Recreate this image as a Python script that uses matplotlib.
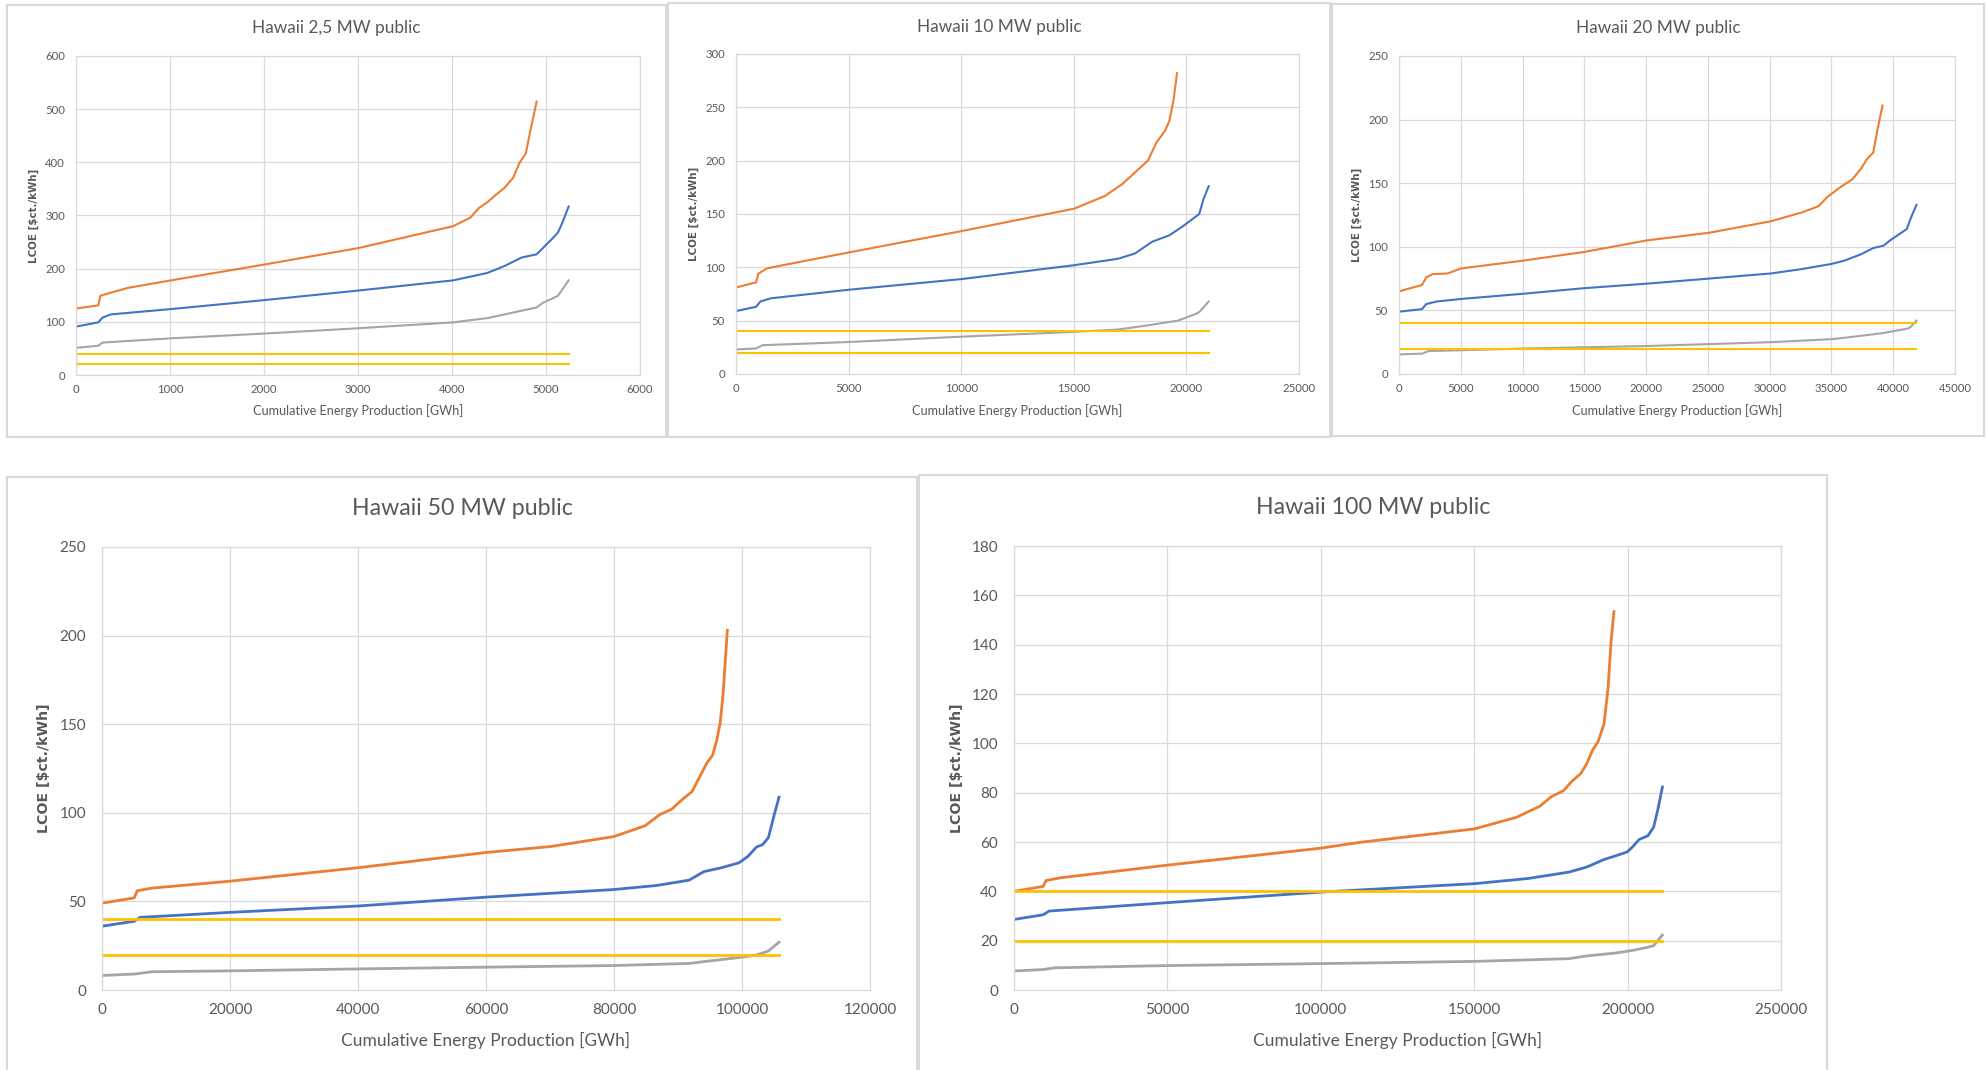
import matplotlib
matplotlib.use("Agg")
import matplotlib.pyplot as plt
from matplotlib.patches import Rectangle
from matplotlib.ticker import MultipleLocator, FuncFormatter

# -----------------------------------------------
# Data (GWh, $ct./kWh)
# -----------------------------------------------
titles = ["Hawaii 2,5 MW public", "Hawaii 10 MW public", "Hawaii 20 MW public",
          "Hawaii 50 MW public", "Hawaii 100 MW public"]

# 2,5 MW
p1_orange_x = [0, 237, 259, 373, 555, 1010, 2011, 3011, 4013, 4195, 4286, 4377, 4468, 4559, 4650, 4718, 4786, 4832, 4900]
p1_orange_y = [125, 131, 149, 155, 164, 178, 208, 239, 280, 296, 314, 325, 339, 352, 371, 399, 417, 458, 514]
p1_blue_x = [0, 237, 282, 373, 1010, 2011, 3011, 4013, 4377, 4559, 4741, 4900, 4968, 5059, 5127, 5173, 5241]
p1_blue_y = [91, 99, 108, 114, 124, 141, 159, 178, 192, 205, 221, 227, 239, 255, 268, 286, 317]
p1_gray_x = [0, 237, 282, 1010, 2011, 3011, 4013, 4377, 4559, 4741, 4900, 4968, 5059, 5127, 5241]
p1_gray_y = [51, 55, 61, 69, 78, 88, 99, 107, 114, 121, 127, 136, 143, 149, 178]

# 10 MW
p2_orange_x = [0, 893, 989, 1369, 2319, 5019, 10019, 15019, 16388, 17148, 17718, 18289, 18669, 19049, 19240, 19430, 19582]
p2_orange_y = [81, 86, 94, 99, 103, 114, 134, 155, 167, 178, 189, 200, 217, 228, 237, 257, 282]
p2_blue_x = [0, 893, 1084, 1559, 5019, 10019, 15019, 16958, 17718, 18479, 19240, 19810, 20190, 20570, 20760, 20989]
p2_blue_y = [59, 63, 68, 71, 79, 89, 102, 108, 113, 124, 130, 138, 144, 150, 164, 176]
p2_gray_x = [0, 893, 1179, 5019, 10019, 15019, 16958, 18098, 19620, 20380, 20570, 20989]
p2_gray_y = [23, 24, 27, 30, 35, 39.5, 41.7, 45, 50, 56, 58, 68]

# 20 MW
p3_orange_x = [0, 1868, 2208, 2717, 3906, 5027, 9952, 15014, 20041, 25068, 30061, 32609, 33967, 34647, 35666, 36685, 37364, 37874, 38383, 38723, 39130]
p3_orange_y = [65, 70, 76, 78.5, 79, 83, 89, 96, 105, 111, 120, 127, 132, 139, 146.5, 153, 161, 169, 174, 192, 211]
p3_blue_x = [0, 1868, 2208, 3057, 5027, 9952, 15014, 20041, 25068, 30061, 32609, 34987, 36006, 37364, 38383, 39232, 39741, 40421, 41100, 41440, 41881]
p3_blue_y = [49, 51, 55, 57, 59, 63, 67.5, 71, 75, 79, 82.5, 86.5, 89, 94, 99, 101, 105, 109.5, 114, 123, 133]
p3_gray_x = [0, 1868, 2378, 9952, 20041, 30061, 34987, 36006, 37364, 39062, 40761, 41270, 41610, 41881]
p3_gray_y = [15.4, 16, 18, 20, 22, 25, 27.4, 28.4, 30, 32, 35, 36, 39, 42]

# 50 MW
p4_orange_x = [0, 5046, 5505, 7798, 20000, 40000, 60000, 70183, 80000, 84862, 87156, 88991, 90826, 92202, 93119, 94495, 95413, 96055, 96606, 97064, 97706]
p4_orange_y = [49, 52, 56, 57.5, 61.4, 69, 77.6, 81, 86.6, 92.7, 99, 102, 108, 112, 118.5, 128, 132.5, 141, 151, 168, 203]
p4_blue_x = [0, 5046, 5963, 20000, 40000, 60000, 80000, 86697, 91743, 94037, 96789, 99541, 100917, 102294, 103211, 104128, 105046, 105780]
p4_blue_y = [36, 38.8, 41, 43.8, 47.4, 52.4, 56.7, 59, 62, 66.8, 69, 71.8, 75.4, 80.8, 82, 86, 99, 108.8]
p4_gray_x = [0, 5046, 7798, 20000, 40000, 60000, 80000, 91743, 95872, 99541, 102294, 104128, 105780]
p4_gray_y = [8.2, 9, 10.3, 10.8, 11.9, 12.9, 13.8, 15, 16.8, 18.3, 19.8, 22, 27]

# 100 MW
p5_orange_x = [0, 9520, 10472, 15232, 49886, 100000, 112338, 150038, 163747, 171363, 175171, 178979, 181835, 184691, 186595, 188499, 190403, 192307, 193640, 194592, 195544]
p5_orange_y = [40, 42, 44.4, 45.5, 50.6, 57.5, 59.8, 65.3, 70, 74.5, 78.4, 80.7, 84.6, 87.7, 91.5, 97, 100.8, 107.8, 122.5, 141, 153.4]
p5_blue_x = [0, 9520, 11424, 49886, 100000, 150038, 167555, 180883, 186595, 192307, 196115, 199923, 201827, 203731, 206587, 208491, 209824, 211347]
p5_blue_y = [28.6, 30.5, 32, 35.4, 39.7, 43.1, 45.2, 47.8, 49.8, 52.9, 54.4, 56, 58.3, 61, 62.5, 66, 73, 82.3]
p5_gray_x = [0, 9520, 13328, 49886, 100000, 150038, 180883, 186595, 196115, 201827, 206587, 208491, 211347]
p5_gray_y = [7.7, 8.3, 9, 9.9, 10.7, 11.6, 12.7, 13.8, 15, 16.1, 17.3, 18, 22.3]

# the two flat reference levels
ref_levels = [40, 20]

# axis ranges / tick steps per panel
y_max = [600, 300, 250, 250, 180]
y_step = [100, 50, 50, 50, 20]
x_max = [6000, 25000, 45000, 120000, 250000]
x_step = [1000, 5000, 5000, 20000, 50000]

# -----------------------------------------------
# Layout (pixel boxes of the 1986x1070 reference)
# -----------------------------------------------
W, H = 1986, 1070
frames = [(7, 5, 666, 437), (668, 3, 1330, 437), (1332, 4, 1984, 436),
          (7, 477, 917, 1085), (919, 475, 1827, 1085)]
plot_boxes = [(76, 56, 640, 375), (736, 54, 1299, 374), (1399, 56, 1955, 374),
              (102, 547, 870, 990), (1014, 546, 1781, 990)]
title_y = [28, 27, 28, 509, 508]
ylabel_x = [34, 694, 1357, 44, 957]
xlabel_y = [411, 411, 411, 1040, 1040]

ORANGE, BLUE, GRAY, YELLOW = "#ED7D31", "#4472C4", "#A5A5A5", "#FFC000"
TXT = "#595959"
GRID = "#D9D9D9"
FONT = "Lato"

series = [
    (p1_orange_x, p1_orange_y, p1_blue_x, p1_blue_y, p1_gray_x, p1_gray_y),
    (p2_orange_x, p2_orange_y, p2_blue_x, p2_blue_y, p2_gray_x, p2_gray_y),
    (p3_orange_x, p3_orange_y, p3_blue_x, p3_blue_y, p3_gray_x, p3_gray_y),
    (p4_orange_x, p4_orange_y, p4_blue_x, p4_blue_y, p4_gray_x, p4_gray_y),
    (p5_orange_x, p5_orange_y, p5_blue_x, p5_blue_y, p5_gray_x, p5_gray_y),
]


def fig_rect(x0, y0, x1, y1):
    return [x0 / W, 1 - y1 / H, (x1 - x0) / W, (y1 - y0) / H]


fig = plt.figure(figsize=(W / 100, H / 100), dpi=100)
fig.patch.set_facecolor("white")

for i in range(5):
    big = i >= 3
    # chart area border
    fx0, fy0, fx1, fy1 = frames[i]
    fig.add_artist(Rectangle((fx0 / W, 1 - fy1 / H), (fx1 - fx0) / W, (fy1 - fy0) / H,
                             transform=fig.transFigure, fill=False,
                             edgecolor=GRID, linewidth=1.5))

    x0, y0, x1, y1 = plot_boxes[i]
    ax = fig.add_axes(fig_rect(x0, y0, x1, y1))

    ox, oy, bx, by, gx, gy = series[i]
    lw = 2.0 if big else 1.5
    ax.plot(ox, oy, color=ORANGE, linewidth=lw, solid_joinstyle="round")
    ax.plot(bx, by, color=BLUE, linewidth=lw, solid_joinstyle="round")
    ax.plot(gx, gy, color=GRAY, linewidth=lw, solid_joinstyle="round")
    for lev in ref_levels:
        ax.plot([0, bx[-1]], [lev, lev], color=YELLOW, linewidth=lw)

    ax.set_xlim(0, x_max[i])
    ax.set_ylim(0, y_max[i])
    ax.xaxis.set_major_locator(MultipleLocator(x_step[i]))
    ax.yaxis.set_major_locator(MultipleLocator(y_step[i]))
    fmt = FuncFormatter(lambda v, p: f"{v:.0f}")
    ax.xaxis.set_major_formatter(fmt)
    ax.yaxis.set_major_formatter(fmt)

    ax.grid(True, color=GRID, linewidth=0.9)
    ax.set_axisbelow(True)
    for sp in ax.spines.values():
        sp.set_color(GRID)
        sp.set_linewidth(0.9)

    tick_size = 11 if big else 8.2
    ax.tick_params(axis="both", length=0, labelsize=tick_size, labelcolor=TXT)
    ax.tick_params(axis="y", pad=11.5 if big else 8)
    ax.tick_params(axis="x", pad=9.5 if big else 6.5)
    for lbl in ax.get_xticklabels() + ax.get_yticklabels():
        lbl.set_fontfamily(FONT)

    # titles and axis labels
    fig.text((fx0 + fx1) / 2 / W if i != 2 else 1658 / W, 1 - title_y[i] / H, titles[i],
             ha="center", va="center", fontsize=16.7 if big else 12.4,
             color=TXT, family=FONT)
    ax.set_xlabel("Cumulative Energy Production [GWh]", fontsize=12.5 if big else 9.1,
                  color=TXT, family=FONT, va="center")
    ax.xaxis.set_label_coords(0.5, -(xlabel_y[i] - y1) / (y1 - y0))
    ax.set_ylabel("LCOE [$ct./kWh]", fontsize=10.2 if big else 7.4, color=TXT,
                  family="DejaVu Sans", fontweight="bold", va="center")
    ax.yaxis.set_label_coords(-(x0 - ylabel_x[i]) / (x1 - x0), 0.5)

fig.savefig("out.png", dpi=100, facecolor="white")
plt.close(fig)
